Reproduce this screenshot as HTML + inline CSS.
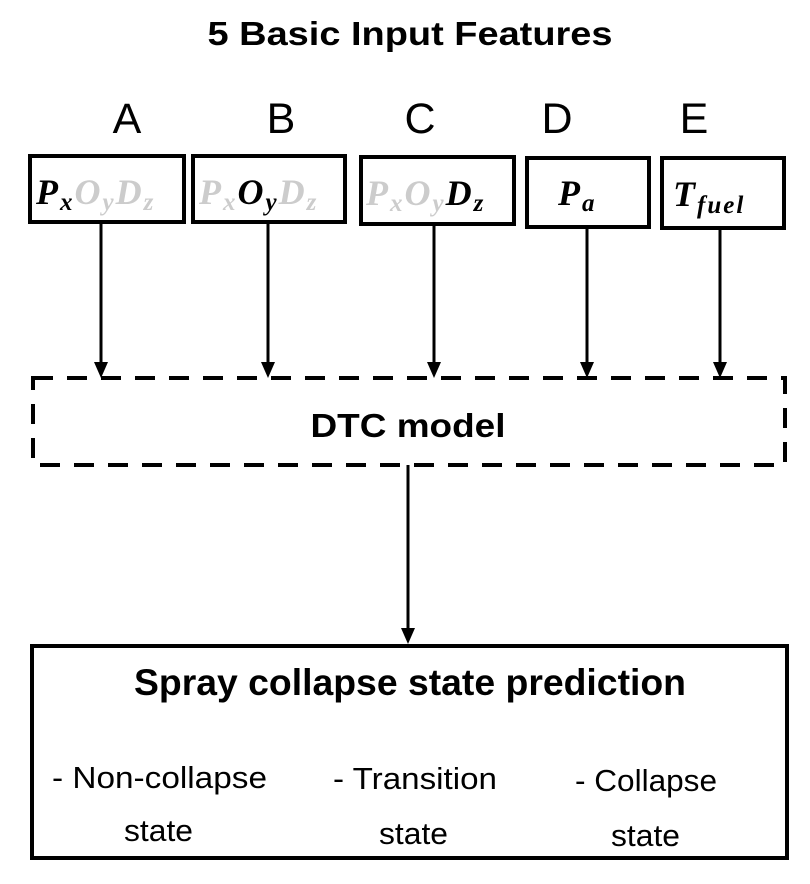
<!DOCTYPE html>
<html><head><meta charset="utf-8"><style>
html,body{margin:0;padding:0;background:#fff;}
svg{display:block;}
text{font-family:"Liberation Sans",sans-serif;}
.m text{font-family:"Liberation Serif",serif;font-style:italic;font-weight:bold;}
</style></head><body>
<svg width="810" height="884" viewBox="0 0 810 884" xmlns="http://www.w3.org/2000/svg">
<text x="410" y="45" font-size="33" font-weight="bold" text-anchor="middle" textLength="405" lengthAdjust="spacingAndGlyphs">5 Basic Input Features</text>
<g font-size="43" text-anchor="middle">
<text x="127" y="133">A</text><text x="281" y="133">B</text><text x="420" y="133">C</text><text x="557" y="133">D</text><text x="694" y="133">E</text>
</g>
<g fill="none" stroke="#000" stroke-width="4">
<rect x="30" y="156" width="154" height="66"/>
<rect x="193" y="156" width="152" height="66"/>
<rect x="361" y="157" width="153" height="67"/>
<rect x="527" y="158" width="122" height="69"/>
<rect x="662" y="158" width="122" height="70"/>
</g>
<g class="m" font-size="36" letter-spacing="2">
<text x="36" y="204"><tspan fill="#000">P</tspan><tspan font-size="25" dy="6" fill="#000">x</tspan><tspan dy="-6" fill="#ccc">O</tspan><tspan font-size="25" dy="6" fill="#ccc">y</tspan><tspan dy="-6" fill="#ccc">D</tspan><tspan font-size="25" dy="6" fill="#ccc">z</tspan></text>
<text x="199" y="204"><tspan fill="#ccc">P</tspan><tspan font-size="25" dy="6" fill="#ccc">x</tspan><tspan dy="-6" fill="#000">O</tspan><tspan font-size="25" dy="6" fill="#000">y</tspan><tspan dy="-6" fill="#ccc">D</tspan><tspan font-size="25" dy="6" fill="#ccc">z</tspan></text>
<text x="366" y="205"><tspan fill="#ccc">P</tspan><tspan font-size="25" dy="6" fill="#ccc">x</tspan><tspan dy="-6" fill="#ccc">O</tspan><tspan font-size="25" dy="6" fill="#ccc">y</tspan><tspan dy="-6" fill="#000">D</tspan><tspan font-size="25" dy="6" fill="#000">z</tspan></text>
<text x="558" y="205">P<tspan font-size="25" dy="6">a</tspan></text>
<text x="673" y="206">T<tspan font-size="25" dy="7">fuel</tspan></text>
</g>
<g stroke="#000" stroke-width="3">
<line x1="101" y1="222" x2="101" y2="365"/>
<line x1="268" y1="222" x2="268" y2="365"/>
<line x1="434" y1="224" x2="434" y2="365"/>
<line x1="587" y1="227" x2="587" y2="365"/>
<line x1="720" y1="228" x2="720" y2="365"/>
<line x1="408" y1="465" x2="408" y2="632"/>
</g>
<g fill="#000">
<polygon points="94,362 108,362 101,378"/>
<polygon points="261,362 275,362 268,378"/>
<polygon points="427,362 441,362 434,378"/>
<polygon points="580,362 594,362 587,378"/>
<polygon points="713,362 727,362 720,378"/>
<polygon points="401,628 415,628 408,644"/>
</g>
<rect x="33" y="378" width="752" height="87" fill="none" stroke="#000" stroke-width="4" stroke-dasharray="20,14"/>
<text x="408" y="437" font-size="33" font-weight="bold" text-anchor="middle" textLength="195" lengthAdjust="spacingAndGlyphs">DTC model</text>
<rect x="32" y="646" width="755" height="212" fill="none" stroke="#000" stroke-width="4"/>
<text x="410" y="695" font-size="37" font-weight="bold" text-anchor="middle" textLength="552" lengthAdjust="spacingAndGlyphs">Spray collapse state prediction</text>
<g font-size="31">
<text x="52" y="788" textLength="215" lengthAdjust="spacingAndGlyphs">- Non-collapse</text>
<text x="333" y="789" textLength="164" lengthAdjust="spacingAndGlyphs">- Transition</text>
<text x="575" y="791" textLength="142" lengthAdjust="spacingAndGlyphs">- Collapse</text>
<text x="124" y="841" textLength="69" lengthAdjust="spacingAndGlyphs">state</text>
<text x="379" y="844" textLength="69" lengthAdjust="spacingAndGlyphs">state</text>
<text x="611" y="846" textLength="69" lengthAdjust="spacingAndGlyphs">state</text>
</g>
</svg>
</body></html>
